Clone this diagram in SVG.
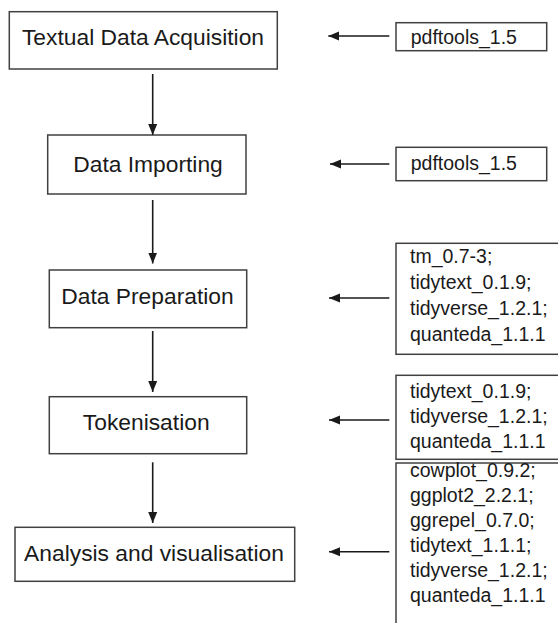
<svg xmlns="http://www.w3.org/2000/svg" width="558" height="623" viewBox="0 0 558 623">
<defs>
<marker id="ah" markerUnits="userSpaceOnUse" markerWidth="11" markerHeight="10" refX="11" refY="5" orient="auto">
<path d="M0,0.5 L11,5 L0,9.5 z" fill="#1a1a1a"/>
</marker>
<style>
.box{fill:#fff;stroke:#404040;stroke-width:1.5}
.main{font-family:"Liberation Sans",Arial,sans-serif;font-size:22.8px;fill:#1a1a1a;text-anchor:middle}
.pkg{font-family:"Liberation Sans",Arial,sans-serif;font-size:19.5px;fill:#1a1a1a}
.conn line{stroke:#1a1a1a;stroke-width:1.6;marker-end:url(#ah)}
</style>
</defs>
<rect width="558" height="623" fill="#fff"/>
<g id="n1"><rect class="box" x="9.3" y="11.7" width="268" height="57.3"/><text class="main" x="143" y="45">Textual Data Acquisition</text></g>
<g id="n2"><rect class="box" x="47.7" y="135" width="198.3" height="59"/><text class="main" x="148" y="171.7">Data Importing</text></g>
<g id="n3"><rect class="box" x="49.3" y="270" width="197.4" height="57.7"/><text class="main" x="147.5" y="304.3">Data Preparation</text></g>
<g id="n4"><rect class="box" x="49.3" y="396.7" width="197.4" height="57"/><text class="main" x="146.2" y="430.3">Tokenisation</text></g>
<g id="n5"><rect class="box" x="15" y="527.3" width="279.7" height="54"/><text class="main" x="154" y="561.3">Analysis and visualisation</text></g>
<g id="p1"><rect class="box" x="396" y="22.7" width="150.7" height="28"/><text class="pkg" x="410.7" y="44">pdftools_1.5</text></g>
<g id="p2"><rect class="box" x="396" y="147.3" width="150.7" height="33.4"/><text class="pkg" x="410.7" y="170">pdftools_1.5</text></g>
<g id="p3"><rect class="box" x="396" y="243.3" width="170" height="111"/><text class="pkg" x="410" y="263.3">tm_0.7-3;</text><text class="pkg" x="410" y="289.3">tidytext_0.1.9;</text><text class="pkg" x="410" y="315">tidyverse_1.2.1;</text><text class="pkg" x="410" y="341">quanteda_1.1.1</text></g>
<g id="p4"><rect class="box" x="396" y="375.3" width="170" height="84"/><text class="pkg" x="410" y="398.3">tidytext_0.1.9;</text><text class="pkg" x="410" y="423.3">tidyverse_1.2.1;</text><text class="pkg" x="410" y="448.3">quanteda_1.1.1</text></g>
<g id="p5"><rect class="box" x="396" y="463" width="170" height="170"/><text class="pkg" x="410" y="477.3">cowplot_0.9.2;</text><text class="pkg" x="410" y="502">ggplot2_2.2.1;</text><text class="pkg" x="410" y="526.7">ggrepel_0.7.0;</text><text class="pkg" x="410" y="551.7">tidytext_1.1.1;</text><text class="pkg" x="410" y="576.7">tidyverse_1.2.1;</text><text class="pkg" x="410" y="601.7">quanteda_1.1.1</text></g>
<g id="connectors" class="conn">
<line x1="152.7" y1="74" x2="152.7" y2="135"/>
<line x1="152.7" y1="200" x2="152.7" y2="263.5"/>
<line x1="152.7" y1="331" x2="152.7" y2="392"/>
<line x1="152.7" y1="462.3" x2="152.7" y2="523"/>
<line x1="389.3" y1="36" x2="328.3" y2="36"/>
<line x1="389.3" y1="164" x2="330" y2="164"/>
<line x1="389.3" y1="298" x2="329" y2="298"/>
<line x1="389.3" y1="420" x2="329" y2="420"/>
<line x1="389.3" y1="551.7" x2="329" y2="551.7"/>
</g>
</svg>
